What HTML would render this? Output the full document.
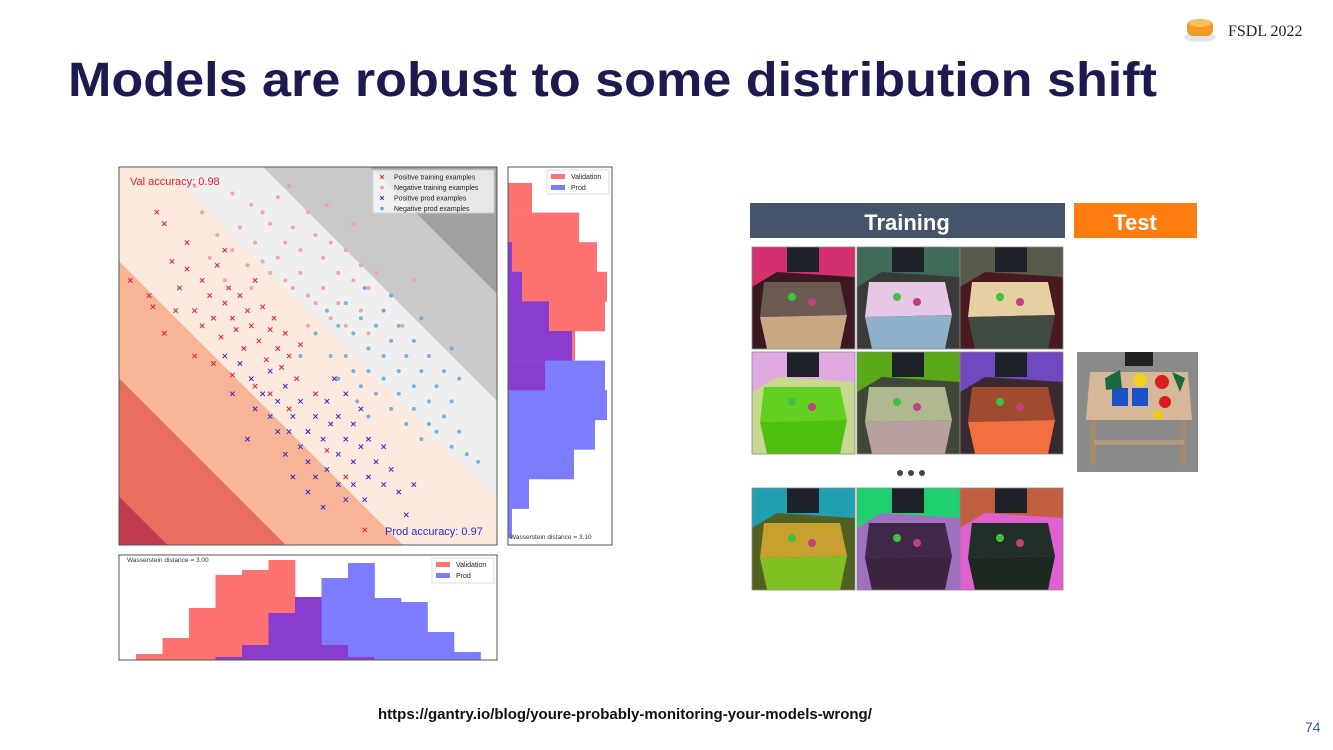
<!DOCTYPE html>
<html><head><meta charset="utf-8">
<style>
html,body{margin:0;padding:0;background:#fff;width:1333px;height:750px;overflow:hidden;}
svg{display:block;font-family:"Liberation Sans",sans-serif;}
</style></head>
<body>
<svg id="slide" width="1333" height="750" viewBox="0 0 1333 750" xmlns="http://www.w3.org/2000/svg">
<rect x="0" y="0" width="1333" height="750" fill="#ffffff"/>
<g>
<ellipse cx="1200" cy="37" rx="16" ry="5" fill="#dfe6ee"/>
<rect x="1187" y="20" width="26" height="16" rx="6" fill="#f39a22"/>
<ellipse cx="1200" cy="23" rx="11" ry="4" fill="#f8c060"/>
</g>
<text x="1228" y="36" font-family="Liberation Serif,serif" font-size="16" fill="#222">FSDL 2022</text>
<text x="68" y="96" font-size="48" font-weight="bold" fill="#1c1a4f" textLength="1089" lengthAdjust="spacingAndGlyphs">Models are robust to some distribution shift</text>

<g id="scatter"></g>
<g id="bottomHist"></g>
<g id="rightHist"></g>

<g>
<rect x="750" y="203" width="315" height="35" fill="#44546a"/>
<text x="907" y="230" text-anchor="middle" font-size="22" font-weight="bold" fill="#fff">Training</text>
<rect x="1074" y="203" width="123" height="35" fill="#fd7d10"/>
<text x="1135" y="230" text-anchor="middle" font-size="22" font-weight="bold" fill="#fff">Test</text>
<g id="tiles"></g>
<g fill="#444">
<circle cx="900" cy="473" r="3"/><circle cx="911" cy="473" r="3"/><circle cx="922" cy="473" r="3"/>
</g>
<g>
<rect x="1077" y="352" width="121" height="120" fill="#8a8a88"/>
<rect x="1125" y="352" width="28" height="14" fill="#222"/>
<polygon points="1090,372 1188,372 1192,420 1086,420" fill="#d6b898"/>
<rect x="1090" y="420" width="6" height="45" fill="#a08a70"/>
<rect x="1180" y="420" width="6" height="45" fill="#a08a70"/>
<rect x="1094" y="440" width="90" height="5" fill="#b09a80"/>
<rect x="1112" y="388" width="16" height="18" fill="#1a50c8"/>
<rect x="1132" y="388" width="16" height="18" fill="#1a50c8"/>
<circle cx="1140" cy="380" r="7" fill="#f0d020"/>
<circle cx="1162" cy="382" r="7" fill="#d82020"/>
<circle cx="1165" cy="402" r="6" fill="#e01818"/>
<circle cx="1158" cy="415" r="5" fill="#f0c818"/>
<polygon points="1105,378 1120,370 1122,388 1106,390" fill="#1a6a40"/>
<polygon points="1172,372 1185,378 1180,392" fill="#186838"/>
</g>
</g>

<text x="378" y="719" font-size="15" font-weight="bold" fill="#111">https://gantry.io/blog/youre-probably-monitoring-your-models-wrong/</text>
<text x="1305" y="732" font-size="14" fill="#3a56a6">74</text>
</svg>
<script>
const NS="http://www.w3.org/2000/svg";
function mk(tag,attrs,parent){const e=document.createElementNS(NS,tag);for(const k in attrs)e.setAttribute(k,attrs[k]);parent.appendChild(e);return e;}

// ---------- scatter data (x,y in 0..100 data units) ----------
const posTrain=[[3,70],[8,66],[10,88],[12,85],[14,75],[16,68],[18,73],[20,62],[22,70],[22,58],[24,66],[25,60],[26,74],[27,55],[28,64],[29,68],[30,60],[31,57],[32,66],[33,52],[34,62],[35,58],[36,70],[37,54],[38,63],[39,49],[40,57],[41,60],[42,52],[43,47],[44,56],[45,50],[47,44],[48,53],[20,50],[25,48],[30,45],[36,42],[40,40],[45,36],[12,56],[15,62],[50,30],[55,25],[60,18],[52,40],[9,63],[28,78],[18,80],[65,4]];
const negTrain=[[20,95],[30,93],[35,90],[38,88],[40,85],[42,92],[44,80],[46,84],[48,78],[50,88],[52,82],[54,76],[56,80],[58,72],[60,78],[62,70],[64,74],[66,68],[68,72],[70,62],[36,80],[38,75],[40,72],[42,76],[44,70],[46,68],[48,72],[50,66],[52,64],[54,68],[56,60],[58,64],[30,78],[32,84],[34,74],[26,82],[24,76],[28,70],[60,58],[64,62],[72,66],[75,58],[78,70],[22,88],[45,95],[55,90],[62,85],[50,58],[35,68],[66,56]];
const posProd=[[28,50],[32,48],[35,44],[38,40],[40,46],[42,38],[44,42],[46,34],[48,38],[50,30],[52,34],[54,28],[56,32],[58,24],[60,28],[62,22],[64,26],[66,18],[68,22],[70,16],[45,30],[48,26],[50,22],[52,18],[55,20],[58,16],[60,12],[62,16],[65,12],[42,30],[40,34],[36,36],[55,38],[58,34],[62,32],[66,28],[70,26],[72,20],[74,14],[76,8],[46,18],[50,14],[54,10],[44,24],[78,16],[30,40],[34,28],[64,36],[60,40],[57,44]];
const negProd=[[55,62],[58,58],[60,64],[62,56],[64,60],[66,52],[68,58],[70,50],[72,54],[74,46],[76,50],[78,42],[80,46],[82,38],[84,42],[86,34],[88,38],[90,30],[60,50],[62,46],[64,42],[66,46],[68,40],[70,44],[72,36],[74,40],[76,32],[78,36],[80,28],[82,32],[70,62],[74,58],[78,54],[82,50],[86,46],[52,56],[56,50],[58,44],[63,38],[66,34],[92,24],[95,22],[88,26],[84,30],[48,50],[65,68],[72,66],[80,60],[88,52],[90,44]];
const legendLabels=["Positive training examples","Negative training examples","Positive prod examples","Negative prod examples"];

// ---------- histogram data ----------
const bottomValidation=[6,22,52,85,90,100,63,15,3,0,0,0,0];
const bottomProd=[0,0,0,3,15,47,63,82,97,62,58,28,8];
const rightValidation=[24,71,89,99,97,67,37,0,0,0,0,0];
const rightProd=[0,0,4,14,41,64,97,99,87,66,21,4];

// ---------- scatter ----------
const P={x:119,y:167,w:378,h:378};
const sx=v=>P.x+v/100*P.w, sy=v=>P.y+P.h-v/100*P.h;
const sc=document.getElementById('scatter');
const clip=mk('clipPath',{id:'pc'},sc);mk('rect',{x:P.x,y:P.y,width:P.w,height:P.h},clip);
const bg=mk('g',{},sc);
// bands between diagonal lines y - x = c (screen coords), bottom-left to top-right
const bandCols=["#c0394f","#e86e5e","#f8b496","#fdeadf","#efefef","#c9c9c9","#a1a1a1"];
const bandBounds=[600,377,259,142,2,-96,-203,-600];
// clip a polygon to the plot rectangle (Sutherland-Hodgman)
function clipPoly(pts){
  const edges=[[p=>p[0]>=P.x,(a,b)=>{const t=(P.x-a[0])/(b[0]-a[0]);return [P.x,a[1]+t*(b[1]-a[1])];}],
    [p=>p[0]<=P.x+P.w,(a,b)=>{const t=(P.x+P.w-a[0])/(b[0]-a[0]);return [P.x+P.w,a[1]+t*(b[1]-a[1])];}],
    [p=>p[1]>=P.y,(a,b)=>{const t=(P.y-a[1])/(b[1]-a[1]);return [a[0]+t*(b[0]-a[0]),P.y];}],
    [p=>p[1]<=P.y+P.h,(a,b)=>{const t=(P.y+P.h-a[1])/(b[1]-a[1]);return [a[0]+t*(b[0]-a[0]),P.y+P.h];}]];
  let out=pts;
  for(const [inside,inter] of edges){const inp=out;out=[];
    for(let i=0;i<inp.length;i++){const cur=inp[i],prev=inp[(i+inp.length-1)%inp.length];
      if(inside(cur)){if(!inside(prev))out.push(inter(prev,cur));out.push(cur);}
      else if(inside(prev))out.push(inter(prev,cur));}}
  return out;}
function linePts(c){return [[P.x-50,P.x-50+c],[P.x+P.w+50,P.x+P.w+50+c]];}
for(let i=0;i<bandCols.length;i++){
  const a=linePts(bandBounds[i]), b=linePts(bandBounds[i+1]);
  const pts=clipPoly([a[0],a[1],b[1],b[0]]);
  if(pts.length<3)continue;
  const poly=mk('polygon',{points:pts.map(p=>p[0].toFixed(1)+','+p[1].toFixed(1)).join(' '),fill:bandCols[i]},bg);
  
  
}
function cross(x,y,col,g){const s=2.2;mk('path',{d:`M${x-s},${y-s}L${x+s},${y+s}M${x-s},${y+s}L${x+s},${y-s}`,stroke:col,'stroke-width':1},g);}
const ptsG=mk('g',{'clip-path':'url(#pc)'},sc);
negTrain.forEach(p=>{const c=mk('circle',{cx:sx(p[0]),cy:sy(p[1]),r:2,fill:"#f59aa4",opacity:0.9},ptsG);});
negProd.forEach(p=>{const c=mk('circle',{cx:sx(p[0]),cy:sy(p[1]),r:2,fill:"#66ace0",opacity:0.9},ptsG);});
posTrain.forEach(p=>{const g=mk('g',{},ptsG);cross(sx(p[0]),sy(p[1]),"#e0202c",g);});
posProd.forEach(p=>{const g=mk('g',{},ptsG);cross(sx(p[0]),sy(p[1]),"#3428d0",g);});
mk('rect',{x:P.x,y:P.y,width:P.w,height:P.h,fill:'none',stroke:'#555','stroke-width':1},sc);
// legend
const lg=mk('g',{},sc);
mk('rect',{x:373,y:170,width:121,height:43,fill:'#fff',opacity:0.75,stroke:'#ddd'},lg);
const legCols=["#e0202c","#f59aa4","#3428d0","#66ace0"];
legendLabels.forEach((t,i)=>{const y=177+i*10.5;
  if(i%2===0){const s=1.8;mk('path',{d:`M${382-s},${y-s}L${382+s},${y+s}M${382-s},${y+s}L${382+s},${y-s}`,stroke:legCols[i],'stroke-width':1},lg);}
  else mk('circle',{cx:382,cy:y,r:1.8,fill:legCols[i]},lg);
  const tx=mk('text',{x:394,y:y+2.5,'font-size':7,fill:'#222'},lg);tx.textContent=t;});
const va=mk('text',{x:130,y:185,'font-size':11,fill:'#e8202a'},sc);va.textContent="Val accuracy: 0.98";
const pa=mk('text',{x:385,y:535,'font-size':11,fill:'#2a2ad0'},sc);pa.textContent="Prod accuracy: 0.97";

// ---------- bottom histogram ----------
const RED="#fe7272",BLUE="#7c7cfc",PURP="#8a3ccf";
const B={x:119,y:555,w:378,h:105,x0:136,bw:26.5};
const bh=document.getElementById('bottomHist');
mk('rect',{x:B.x,y:B.y,width:B.w,height:B.h,fill:'#fff'},bh);
const by=v=>B.y+B.h-v;
bottomValidation.forEach((v,i)=>{const x=B.x0+i*B.bw;const pv=bottomProd[i],m=Math.min(v,pv);
  if(v>0){const r=mk('rect',{x:x,y:by(v),width:B.bw+0.3,height:v,fill:RED},bh);}
  if(pv>0){const r=mk('rect',{x:x,y:by(pv),width:B.bw+0.3,height:pv,fill:BLUE},bh);}
  if(m>0)mk('rect',{x:x,y:by(m),width:B.bw+0.3,height:m,fill:PURP},bh);});
mk('rect',{x:B.x,y:B.y,width:B.w,height:B.h,fill:'none',stroke:'#555'},bh);
const bt=mk('text',{x:127,y:562,'font-size':6.5,fill:'#333'},bh);bt.textContent="Wasserstein distance = 3.00";
const bl=mk('g',{},bh);
mk('rect',{x:432,y:558,width:62,height:25,fill:'#fff',stroke:'#ddd'},bl);
mk('rect',{x:436,y:562,width:14,height:5,fill:RED},bl);mk('rect',{x:436,y:573,width:14,height:5,fill:BLUE},bl);
let t=mk('text',{x:456,y:567,'font-size':7,fill:'#222'},bl);t.textContent="Validation";
t=mk('text',{x:456,y:578,'font-size':7,fill:'#222'},bl);t.textContent="Prod";

// ---------- right histogram ----------
const R={x:508,y:167,w:104,h:378,y0:183,bw:29.6};
const rh=document.getElementById('rightHist');
mk('rect',{x:R.x,y:R.y,width:R.w,height:R.h,fill:'#fff'},rh);
rightValidation.forEach((v,i)=>{const y=R.y0+i*R.bw;const pv=rightProd[i],m=Math.min(v,pv);
  if(v>0){const r=mk('rect',{x:R.x,y:y,width:v,height:R.bw+0.3,fill:RED},rh);}
  if(pv>0){const r=mk('rect',{x:R.x,y:y,width:pv,height:R.bw+0.3,fill:BLUE},rh);}
  if(m>0)mk('rect',{x:R.x,y:y,width:m,height:R.bw+0.3,fill:PURP},rh);});
mk('rect',{x:R.x,y:R.y,width:R.w,height:R.h,fill:'none',stroke:'#555'},rh);
const rt=mk('text',{x:510,y:539,'font-size':6.5,fill:'#333'},rh);rt.textContent="Wasserstein distance = 3.10";
const rl=mk('g',{},rh);
mk('rect',{x:547,y:170,width:62,height:24,fill:'#fff',stroke:'#ddd'},rl);
mk('rect',{x:551,y:174,width:14,height:5,fill:RED},rl);mk('rect',{x:551,y:185,width:14,height:5,fill:BLUE},rl);
t=mk('text',{x:571,y:179,'font-size':7,fill:'#222'},rl);t.textContent="Validation";
t=mk('text',{x:571,y:190,'font-size':7,fill:'#222'},rl);t.textContent="Prod";

// ---------- training tiles ----------
const tileCols=[752,857,960], tileRows=[247,352,488];
const tiles=[
 ["#d4306f","#3a1a20","#6a5a50","#c8a882"],["#3f6a55","#3a3a3a","#e6c8e6","#8fb0c8"],["#5a5a4a","#4a1820","#e6cfa0","#404a40"],
 ["#e0a8e0","#c8d890","#62d020","#50c010"],["#58a818","#404838","#b0b890","#b8a0a0"],["#7048c0","#3a2a30","#a04a30","#f07040"],
 ["#20a0b0","#506020","#c8a030","#80c020"],["#20d070","#a070c0","#402848","#3a2440"],["#c06040","#e060d0","#203028","#1c2820"]];
const tg=document.getElementById('tiles');
tiles.forEach((c,i)=>{const x=tileCols[i%3],y=tileRows[Math.floor(i/3)],w=103,h=102;
  const g=mk('g',{},tg);
  mk('rect',{x:x,y:y,width:w,height:h,fill:c[0]},g);
  mk('polygon',{points:`${x},${y+40} ${x+25},${y+25} ${x+w},${y+30} ${x+w},${y+h} ${x},${y+h}`,fill:c[1]},g);
  mk('rect',{x:x+35,y:y,width:32,height:25,fill:"#1c2228"},g);
  mk('polygon',{points:`${x+12},${y+35} ${x+88},${y+35} ${x+95},${y+68} ${x+8},${y+70}`,fill:c[2]},g);
  mk('polygon',{points:`${x+8},${y+70} ${x+95},${y+68} ${x+88},${y+h} ${x+15},${y+h}`,fill:c[3]},g);
  mk('circle',{cx:x+40,cy:y+50,r:4,fill:"#40c040"},g);mk('circle',{cx:x+60,cy:y+55,r:4,fill:"#c04080"},g);
  mk('rect',{x:x,y:y,width:w,height:h,fill:'none',stroke:'#888','stroke-width':0.8},g);});
</script>
</body></html>
